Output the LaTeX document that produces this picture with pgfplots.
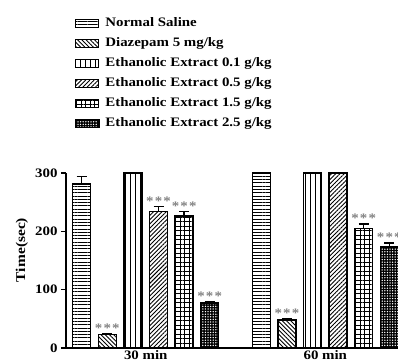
\documentclass[border=0pt]{standalone}
\usepackage{fontspec}
\setmainfont{Liberation Serif}[FakeStretch=1.15]
\usepackage{pgfplots}
\pgfplotsset{compat=1.18}
\usepackage{pgfplotstable}
\usetikzlibrary{patterns.meta}

\pgfplotstableread{
x y err star
0 281 13 {}
1 300 0 {}
}\tabNS
\pgfplotstableread{
x y err star
0 23 1 ***
1 48 2 ***
}\tabDZ
\pgfplotstableread{
x y err star
0 300 0 {}
1 300 0 {}
}\tabEa
\pgfplotstableread{
x y err star
0 234 9 ***
1 300 0 {}
}\tabEb
\pgfplotstableread{
x y err star
0 226 8 ***
1 205 8 ***
}\tabEc
\pgfplotstableread{
x y err star
0 77 3 ***
1 173 7 ***
}\tabEd

\pgfplotsset{
  mybar/.style={
    draw=black, line width=1.5bp, pattern color=black,
    error bars/y dir=plus, error bars/y explicit,
    error bars/error bar style={line width=1.5bp, black},
    error bars/error mark options={rotate=90, mark size=5bp, line width=1.5bp, black},
  },
}

\begin{document}
\begin{tikzpicture}
\useasboundingbox (0,0) rectangle (398bp,361bp);
\begin{axis}[
  at={(66bp,13bp)}, anchor=south west,
  scale only axis, width=332bp, height=175bp,
  xmin=-0.444, xmax=1.405, ymin=0, ymax=300,
  axis x line*=bottom, axis y line*=left,
  axis line style={line width=1.5bp, -},
  ytick={0,100,200,300},
  ytick align=outside, major tick length=5bp,
  y tick style={line width=1.2bp, black},
  xtick={0,1}, xticklabels={30 min, 60 min},
  x tick style={draw=none},
  /pgf/number format/assume math mode=true,
  tick label style={font=\bfseries\fontsize{13}{13}\selectfont},
  xticklabel style={yshift=6bp},
  ylabel={Time(sec)},
  ylabel style={at={(axis description cs:-0.1325,0.56)}, anchor=center, font=\bfseries\fontsize{13.5}{13.5}\selectfont},
  ybar=7.6bp, bar width=18bp,
  clip=false,
  legend cell align=left,
  legend style={at={(axis description cs:0.027,1.89)}, anchor=north west,
    draw=none, fill=none, inner sep=0pt, row sep=8bp,
    font=\bfseries\fontsize{13}{13}\selectfont,
    nodes={inner sep=0pt, text height=9bp, text depth=3bp},
    /tikz/every odd column/.append style={column sep=6bp}},
  legend image code/.code={\draw[#1, line width=1.2bp] (0bp,-4bp) rectangle (23bp,4bp);},
  point meta=explicit symbolic,
  nodes near coords={\ifx\pgfplotspointmeta\empty\else *\kern1.2bp*\kern1.2bp*\fi},
  visualization depends on={\thisrow{err} \as \errv},
  nodes near coords style={font=\bfseries\fontsize{13}{13}\selectfont, text=gray, anchor=south, inner sep=0.5bp, yshift=\errv*0.5833bp},
]
\addplot[mybar, pattern={Lines[angle=0,distance=3.3bp,line width=0.9bp]}] table[x=x,y=y,y error=err,meta=star] \tabNS;
\addplot[mybar, pattern={Lines[angle=-45,distance=3bp,line width=0.9bp]}] table[x=x,y=y,y error=err,meta=star] \tabDZ;
\addplot[mybar, pattern={Lines[angle=90,distance=5bp,line width=0.9bp]}] table[x=x,y=y,y error=err,meta=star] \tabEa;
\addplot[mybar, pattern={Lines[angle=45,distance=3bp,line width=0.9bp]}] table[x=x,y=y,y error=err,meta=star] \tabEb;
\addplot[mybar, pattern={Hatch[angle=0,distance=4.5bp,line width=0.9bp]}] table[x=x,y=y,y error=err,meta=star] \tabEc;
\addplot[mybar, preaction={fill=black}, pattern={Dots[distance=2.6bp,radius=0.75bp]}, pattern color=white] table[x=x,y=y,y error=err,meta=star] \tabEd;
\legend{Normal Saline, Diazepam 5 mg/kg, Ethanolic Extract 0.1 g/kg, Ethanolic Extract 0.5 g/kg, Ethanolic Extract 1.5 g/kg, Ethanolic Extract 2.5 g/kg}
\end{axis}
\end{tikzpicture}
\end{document}
